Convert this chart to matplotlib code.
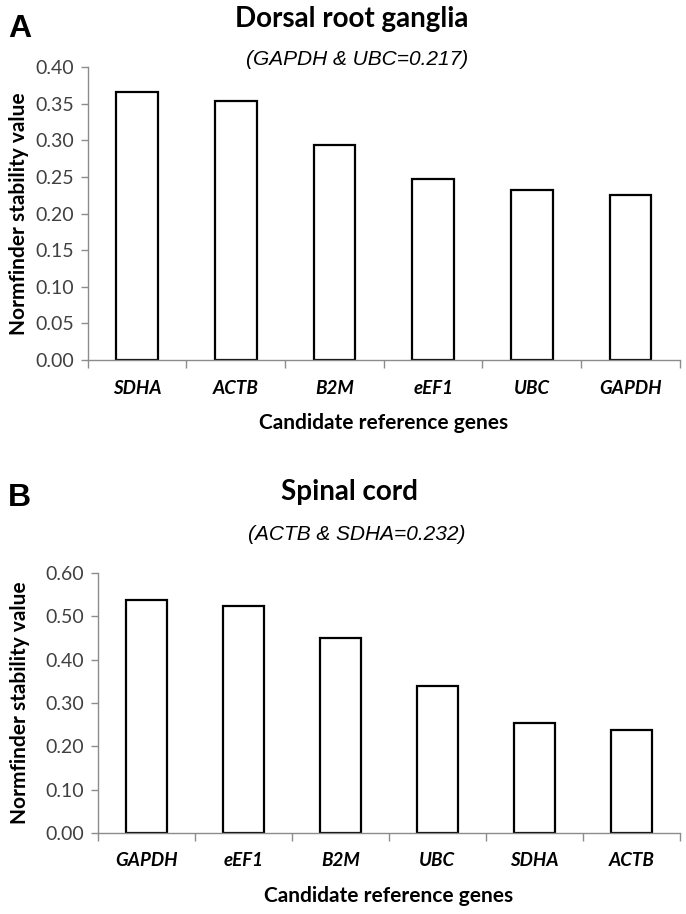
import matplotlib
matplotlib.use("Agg")
import matplotlib.pyplot as plt
import numpy as np

# panel A: dorsal root ganglia
genesA = ["SDHA", "ACTB", "B2M", "eEF1", "UBC", "GAPDH"]
valoresA = [0.366, 0.354, 0.293, 0.247, 0.232, 0.225]
ticksA = [0.00, 0.05, 0.10, 0.15, 0.20, 0.25, 0.30, 0.35, 0.40]

# panel B: spinal cord
genesB = ["GAPDH", "eEF1", "B2M", "UBC", "SDHA", "ACTB"]
valoresB = [0.538, 0.525, 0.451, 0.339, 0.253, 0.237]
ticksB = [0.00, 0.10, 0.20, 0.30, 0.40, 0.50, 0.60]

fuente = "Lato"
gris = "#8c8c8c"

def panel(ax, genes, valores, ticks):
    x = np.arange(len(genes))
    ax.bar(x, valores, width=0.42, color="white", edgecolor="black", linewidth=1.6)
    ax.set_xlim(-0.5, len(genes) - 0.5)
    ax.set_ylim(ticks[0], ticks[-1])
    ax.set_yticks(ticks)
    ax.set_yticklabels(["%.2f" % t for t in ticks], family=fuente, fontsize=14, color="#404040")
    ax.set_xticks(x)
    ax.set_xticklabels(genes, family=fuente, fontsize=13.5, fontweight="bold", style="italic")
    ax.set_xticks(np.arange(-0.5, len(genes)), minor=True)
    ax.tick_params(axis="x", which="major", length=0, pad=14)
    ax.tick_params(axis="x", which="minor", length=6, color=gris, width=1)
    ax.tick_params(axis="y", length=5, color=gris, width=1, pad=5)
    for s in ["top", "right"]:
        ax.spines[s].set_visible(False)
    for s in ["left", "bottom"]:
        ax.spines[s].set_color(gris)
        ax.spines[s].set_linewidth(1)
    ax.set_ylabel("Normfinder stability value", family=fuente, fontsize=15, fontweight="bold")
    ax.set_xlabel("Candidate reference genes", family=fuente, fontsize=15, fontweight="bold", labelpad=12)

fig = plt.figure(figsize=(6.86, 9.14), dpi=100)
axA = fig.add_axes([0.128, 0.606, 0.863, 0.3207])
axB = fig.add_axes([0.143, 0.0886, 0.848, 0.2844])

panel(axA, genesA, valoresA, ticksA)
panel(axB, genesB, valoresB, ticksB)
axA.yaxis.set_label_coords(-0.1, 0.5)
axB.yaxis.set_label_coords(-0.117, 0.5)

fig.text(0.513, 0.979, "Dorsal root ganglia", ha="center", va="center", family=fuente, fontsize=20, fontweight="bold")
fig.text(0.52, 0.935, "(GAPDH & UBC=0.217)", ha="center", va="center", family="Liberation Sans", fontsize=15, style="italic")
fig.text(0.012, 0.968, "A", ha="left", va="center", family="Liberation Sans", fontsize=23, fontweight="bold")

fig.text(0.51, 0.462, "Spinal cord", ha="center", va="center", family=fuente, fontsize=20, fontweight="bold")
fig.text(0.52, 0.415, "(ACTB & SDHA=0.232)", ha="center", va="center", family="Liberation Sans", fontsize=15, style="italic")
fig.text(0.012, 0.455, "B", ha="left", va="center", family="Liberation Sans", fontsize=23, fontweight="bold")

fig.savefig("out.png", dpi=100)
